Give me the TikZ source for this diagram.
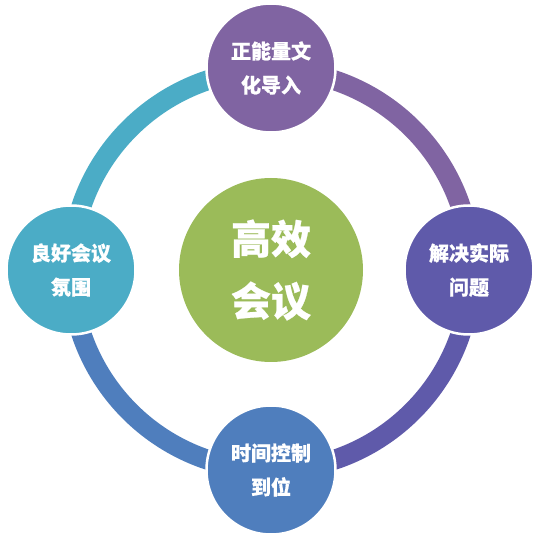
\documentclass[tikz,border=0pt]{standalone}
\usepackage{fontspec}
\newfontfamily\cjk{Noto Sans CJK SC Bold}[FakeBold=0.6]
\definecolor{cgreen}{HTML}{9BBB59}
\definecolor{cpurple}{HTML}{8064A2}
\definecolor{cindigo}{HTML}{5F5AAA}
\definecolor{cblue}{HTML}{4F7EBD}
\definecolor{cteal}{HTML}{4BACC6}
\begin{document}
\begin{tikzpicture}[x=1pt,y=-1pt,
  outer/.style={circle,minimum size=129pt,inner sep=0pt,draw=white,line width=2.5pt,
    text=white,align=center,font=\cjk\bfseries\fontsize{20}{34}\selectfont},
  hub/.style={circle,minimum size=184pt,inner sep=0pt,fill=cgreen,
    text=white,align=center,font=\cjk\bfseries\fontsize{40}{62}\selectfont},
  ring/.style={line width=20pt}]
\useasboundingbox (0,0) rectangle (542,540);
\coordinate (o) at (271,270);
\draw[ring,cpurple] ([shift={(90:-200)}]o) arc[start angle=-90,end angle=0,radius=200];
\draw[ring,cindigo] ([shift={(0:200)}]o) arc[start angle=0,end angle=90,radius=200];
\draw[ring,cblue] ([shift={(90:200)}]o) arc[start angle=90,end angle=180,radius=200];
\draw[ring,cteal] ([shift={(180:200)}]o) arc[start angle=180,end angle=270,radius=200];
\node[hub] (c) at (o) {高效\\会议};
\node[outer,fill=cpurple] (t) at (271,68) {正能量文\\化导入};
\node[outer,fill=cindigo] (r) at (469,270) {解决实际\\问题};
\node[outer,fill=cblue] (b) at (271,470) {时间控制\\到位};
\node[outer,fill=cteal] (l) at (71,270) {良好会议\\氛围};
\end{tikzpicture}
\end{document}
